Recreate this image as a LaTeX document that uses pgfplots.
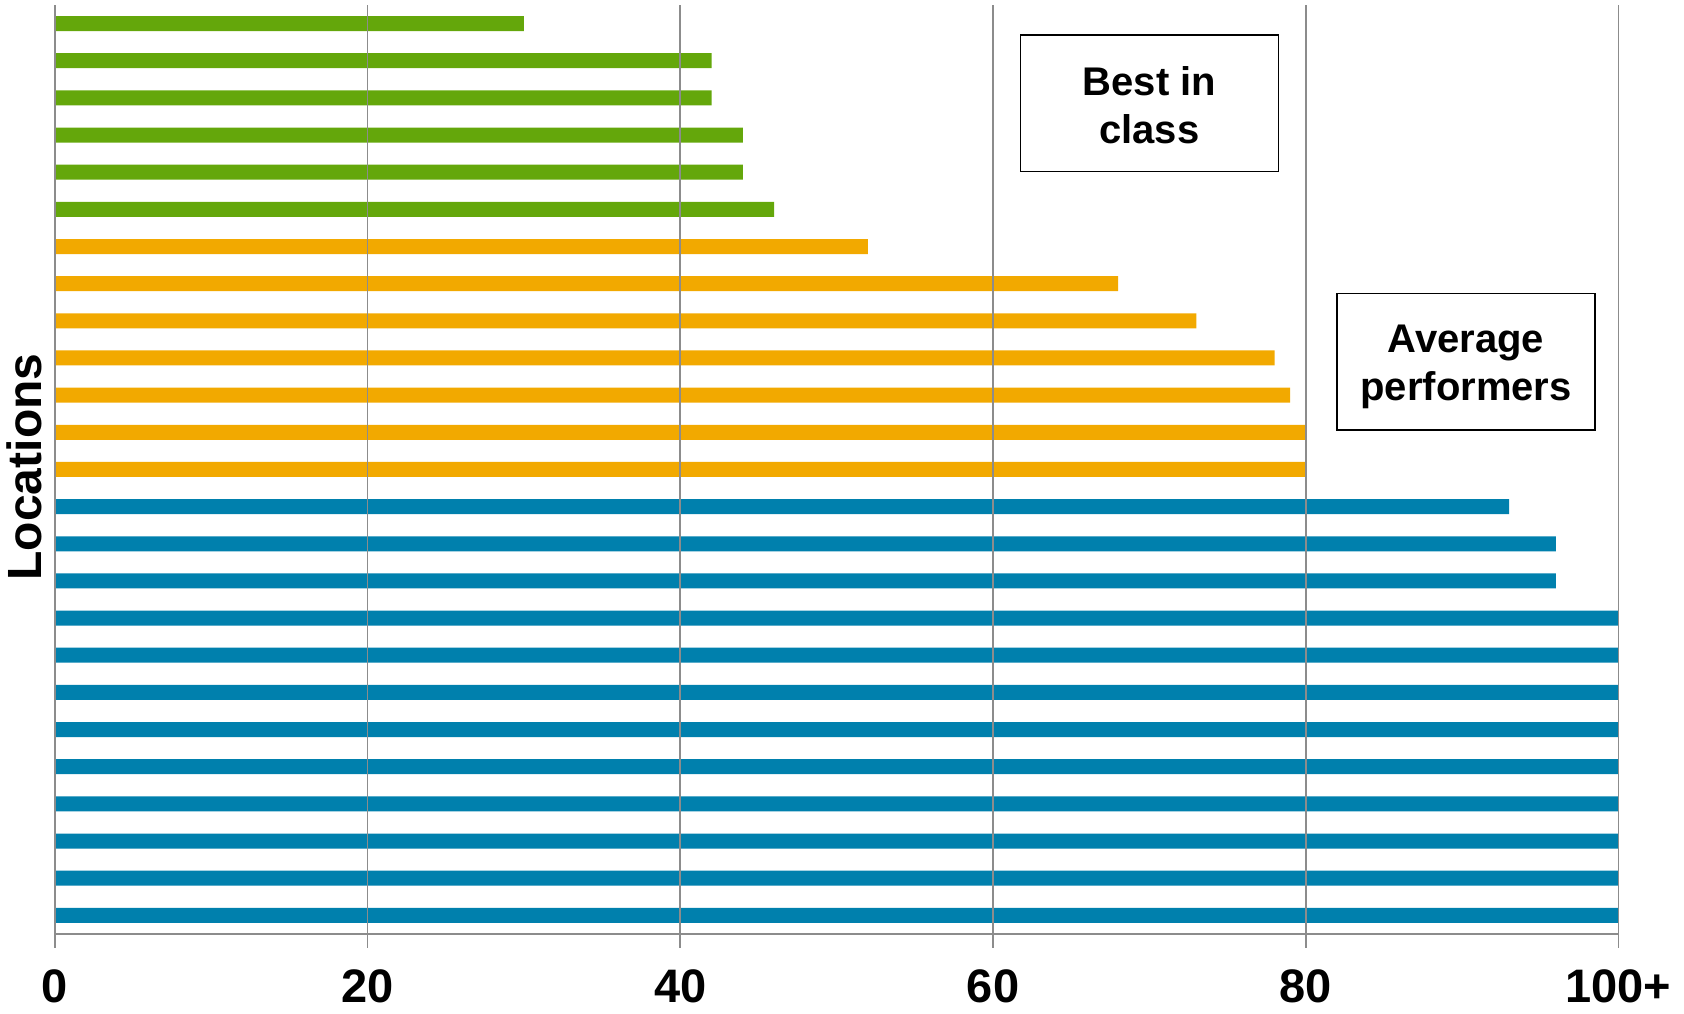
\documentclass[border=0pt]{standalone}
\usepackage{fontspec}
\setmainfont{Liberation Sans}
\usepackage{pgfplots}
\pgfplotsset{compat=1.18}

\definecolor{bestgreen}{HTML}{64A70B}
\definecolor{avgorange}{HTML}{F2A900}
\definecolor{lowblue}{HTML}{0080AD}
\definecolor{gridgray}{HTML}{8C8C8C}

\tikzset{
  groupbox/.style={draw=black, line width=0.8pt, fill=white,
    minimum width=129pt, minimum height=68.2pt, inner sep=0pt},
  grouptext/.style={align=center, inner sep=0pt,
    font=\fontsize{20}{24}\selectfont\bfseries},
}

\begin{document}
\begin{tikzpicture}
\path[use as bounding box] (0,0) rectangle (842pt,-506.5pt);
\begin{axis}[
  at={(27.4pt,-466.95pt)}, anchor=south west,
  scale only axis, width=781.85pt, height=464.45pt,
  xbar, bar width=7.5pt, bar shift=0pt,
  xmin=0, xmax=100, ymin=0.5, ymax=25.5,
  axis x line*=bottom, axis y line*=left,
  axis line style={-, draw=gridgray, line width=0.8pt},
  axis on top,
  xtick={0,20,40,60,80,100},
  xticklabels={0,20,40,60,80,100+},
  ytick=\empty,
  xmajorgrids,
  major grid style={draw=gridgray, line width=0.8pt},
  tick style={draw=gridgray, line width=0.8pt},
  tick align=outside, major tick length=7pt,
  xticklabel style={font=\fontsize{23.5}{28}\selectfont\bfseries, anchor=base, yshift=-27.5pt},
]
  % top group
  \addplot[fill=bestgreen, draw=none] coordinates {
    (30,25) (42,24) (42,23) (44,22) (44,21) (46,20)
  };
  % middle group
  \addplot[fill=avgorange, draw=none] coordinates {
    (52,19) (68,18) (73,17) (78,16) (79,15) (80,14) (80,13)
  };
  % bottom group
  \addplot[fill=lowblue, draw=none] coordinates {
    (93,12) (96,11) (96,10) (100,9) (100,8) (100,7) (100,6)
    (100,5) (100,4) (100,3) (100,2) (100,1)
  };

  \node[groupbox] at (axis cs:70,22.85) {};
  \node[grouptext, yshift=-1pt] at (axis cs:70,22.85) {Best in\\class};
  \node[groupbox] at (axis cs:90.25,15.9) {};
  \node[grouptext, yshift=-2.5pt] at (axis cs:90.25,15.9) {Average\\performers};
\end{axis}
\node[rotate=90, font=\fontsize{24}{28}\selectfont\bfseries] at (12pt,-233.5pt) {Locations};
\end{tikzpicture}
\end{document}
